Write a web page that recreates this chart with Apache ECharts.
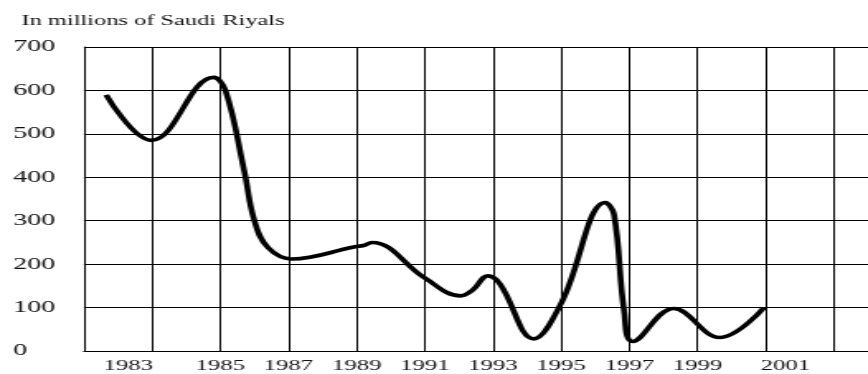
<!DOCTYPE html>
<html>
<head>
<meta charset="utf-8">
<title>In millions of Saudi Riyals</title>
<script src="https://cdn.jsdelivr.net/npm/echarts@6/dist/echarts.min.js"></script>
<style>
  html, body { margin: 0; padding: 0; background: #fff; overflow: hidden; }
  /* the chart is laid out narrow and widened horizontally */
  #chart {
    width: 526px;
    height: 374px;
    transform: scaleX(1.65);
    transform-origin: 0 0;
  }
</style>
</head>
<body>
<div id="chart"></div>
<script>
// Yearly series, in millions of Saudi Riyals
const years = [
  1981.65, 1982.98, 1984.8, 1985.15, 1985.7, 1986.0, 1986.4, 1987.1, 1988.95, 1989.2,
  1989.45, 1991.0, 1992.05, 1992.4, 1992.85, 1993.2, 1994.2, 1995.0, 1996.3, 1996.55,
  1996.85, 1997.1, 1998.3, 1999.65, 2000.95
];
const values = [
  590, 485, 630, 600, 415, 300, 238, 212, 240, 243,
  250, 168, 127, 140, 173, 155, 28, 110, 342, 315,
  90, 22, 98, 31, 100
];
const yearLabels = [1983, 1985, 1987, 1989, 1991, 1993, 1995, 1997, 1999, 2001];
const valueTicks = [0, 100, 200, 300, 400, 500, 600, 700];
const titleText = 'In millions of Saudi Riyals';

const serif = '"Liberation Serif", "DejaVu Serif", serif';
const ink = '#111';

const chart = echarts.init(document.getElementById('chart'));
chart.setOption({
  backgroundColor: '#fff',
  animation: false,
  title: {
    text: titleText,
    left: 8,
    top: 9,
    textStyle: { fontFamily: serif, fontSize: 14.8, fontWeight: 'normal', color: ink }
  },
  grid: { left: 50.9, top: 47, width: 475.8, height: 304 },
  xAxis: {
    type: 'value',
    min: 1981,
    max: 2004,
    interval: 2,
    axisLine: { show: true, lineStyle: { color: '#000', width: 1 } },
    axisTick: { show: false },
    splitLine: { show: true, lineStyle: { color: '#000', width: 1 } },
    axisLabel: {
      margin: 8,
      showMinLabel: true,
      showMaxLabel: false,
      formatter: function (v) {
        const y = Math.round(v);
        if (yearLabels.indexOf(y) < 0) return '';
        if (y === yearLabels[0]) return '{l|' + y + '}';
        if (y === yearLabels[yearLabels.length - 1]) return '{r|' + y + '}';
        return '{c|' + y + '}';
      },
      rich: {
        l: { fontFamily: serif, fontSize: 15, color: ink, padding: [0, 29, 0, 0] },
        r: { fontFamily: serif, fontSize: 15, color: ink, padding: [0, 0, 0, 24] },
        c: { fontFamily: serif, fontSize: 15, color: ink }
      }
    }
  },
  yAxis: {
    type: 'value',
    min: valueTicks[0],
    max: valueTicks[valueTicks.length - 1],
    interval: 100,
    axisLine: { show: true, lineStyle: { color: '#000', width: 1 } },
    axisTick: { show: false },
    splitLine: { show: true, lineStyle: { color: '#000', width: 1 } },
    axisLabel: {
      align: 'left',
      margin: 43,
      padding: [8, 0, 0, 0],
      fontFamily: serif,
      fontSize: 17,
      color: ink
    }
  },
  series: [{
    type: 'line',
    data: years.map((y, i) => [y, values[i]]),
    smooth: 0.4,
    showSymbol: false,
    lineStyle: { color: '#000', width: 3.6 },
    z: 5
  }]
});
</script>
</body>
</html>
